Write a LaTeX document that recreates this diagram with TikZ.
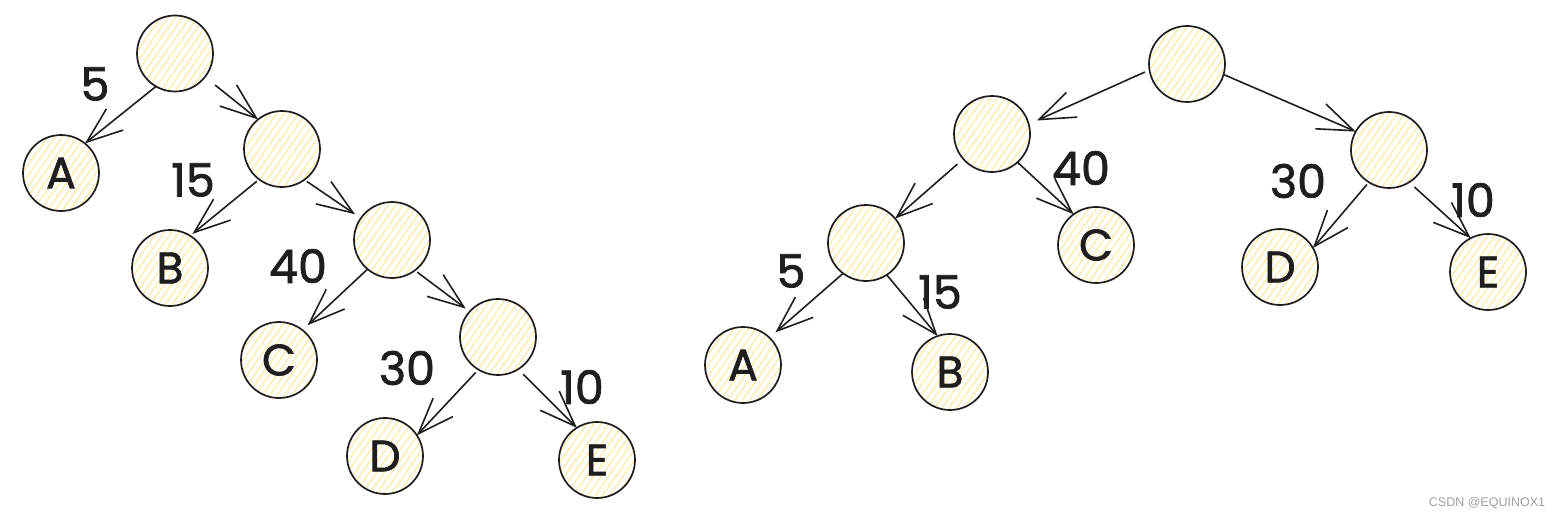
\documentclass[tikz,border=0pt]{standalone}
\usepackage{fontspec}
\setmainfont{Poppins}
\newfontfamily\hand{Poppins}[FakeBold=1.6]
\newfontfamily\wmfont{Liberation Sans}
\usetikzlibrary{arrows.meta,patterns.meta}
\definecolor{hatch}{HTML}{FFEDB0}
\definecolor{ink}{HTML}{1E1E1E}
\definecolor{wm}{HTML}{A0A0A0}
\begin{document}
\begin{tikzpicture}[x=1pt,y=-1pt,
  vertex/.style={circle, draw=ink, line width=1.7pt, minimum size=76pt, inner sep=0pt, outer sep=0pt,
    pattern={Lines[angle=55,distance=6pt,line width=1.4pt]}, pattern color=hatch,
    text=ink, font=\hand\fontsize{44}{44}\selectfont},
  weight/.style={text=ink, font=\hand\fontsize{46}{46}\selectfont, inner sep=0pt},
  edge/.style={draw=ink, line width=1.6pt, -{Straight Barb[length=36pt,width=27pt]}},
]
\fill[white] (0,0) rectangle (1557,519);
\useasboundingbox (0,0) rectangle (1557,519);

% left tree
\node[vertex] (root) at (175,53.5) {};
\node[vertex] (A) at (61,173) {A};
\node[vertex] (n2) at (282,149) {};
\node[vertex] (B) at (170,268) {B};
\node[vertex] (n3) at (392,240) {};
\node[vertex] (C) at (279,360) {C};
\node[vertex] (n4) at (498,337) {};
\node[vertex] (D) at (385,456) {D};
\node[vertex] (E) at (597,460) {E};

\draw[edge] (root.240) -- (A.51);
\draw[edge, shorten <=13pt] (root.322) -- (n2.129);
\draw[edge, shorten <=3pt, shorten >=3pt] (n2.233) -- (B.58);
\draw[edge, shorten <=3pt, shorten >=7pt] (n2.306) -- (n3.145);
\draw[edge, shorten >=7pt] (n3.230) -- (C.52);
\draw[edge, shorten <=3pt, shorten >=5pt] (n3.307) -- (n4.138);
\draw[edge, shorten <=4pt] (n4.239) -- (D.33);
\draw[edge, shorten <=7pt] (n4.302) -- (E.122);

\node[weight] (w1) at (95,84) {5};
\node[weight] (w2) at (193,180) {15};
\node[weight] (w3) at (298,266) {40};
\node[weight] (w4) at (407,368) {30};
\node[weight] (w5) at (582,387) {10};

% right tree
\node[vertex] (rroot) at (1187,64) {};
\node[vertex] (L) at (992,134) {};
\node[vertex] (R) at (1389,150) {};
\node[vertex] (LL) at (866,243) {};
\node[vertex] (rC) at (1096,245) {C};
\node[vertex] (rD) at (1280,267) {D};
\node[vertex] (rE) at (1488,272) {E};
\node[vertex] (rA) at (743,365) {A};
\node[vertex] (rB) at (950,372) {B};

\draw[edge, shorten <=5pt, shorten >=9pt] (rroot.189) -- (L.15);
\draw[edge] (rroot.344) -- (R.151);
\draw[edge, shorten <=8pt] (L.221) -- (LL.40);
\draw[edge] (L.312) -- (rC.126);
\draw[edge, shorten >=8pt] (LL.233) -- (rA.46);
\draw[edge] (LL.303) -- (rB.109);
\draw[edge, shorten <=3pt] (R.238) -- (rD.30);
\draw[edge, shorten <=7pt] (R.302) -- (rE.117);

\node[weight] (v1) at (1081,168) {40};
\node[weight] (v2) at (1298,181) {30};
\node[weight] (v3) at (1473,200) {10};
\node[weight] (v4) at (791,271) {5};
\node[weight] (v5) at (940,292) {15};

\node[text=wm, font=\wmfont\fontsize{12.5}{12.5}\selectfont, inner sep=0pt] (wmk) at (1487,503) {CSDN @EQUINOX1};
\end{tikzpicture}
\end{document}
